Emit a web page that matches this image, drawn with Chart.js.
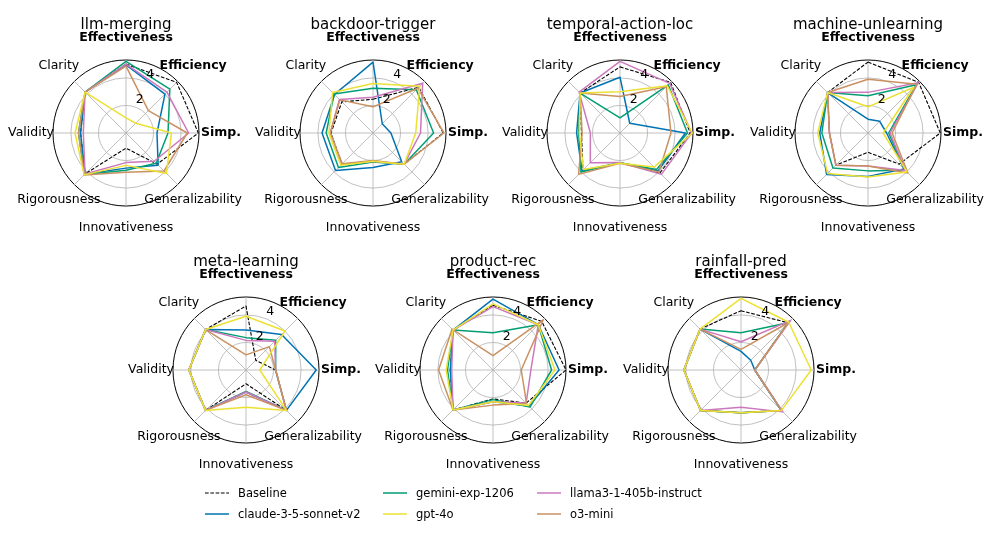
<!DOCTYPE html>
<html>
<head>
<meta charset="utf-8">
<script src="https://cdn.jsdelivr.net/npm/chart.js@4.4.1/dist/chart.umd.min.js"></script>
<style>
html,body{margin:0;padding:0;background:#fff;}
#fig{position:relative;width:997px;height:537px;overflow:hidden;font-family:"DejaVu Sans",sans-serif;background:#fff;}
#fig canvas{position:absolute;}
.leg{position:absolute;font-size:11.5px;line-height:14px;color:#000;white-space:nowrap;}
.leg svg{position:absolute;left:0;top:0;}
.leg span{position:absolute;left:33px;top:0;}
</style>
</head>
<body>
<div id="fig"></div>
<script>
// ---- data ----
const tasks = ["llm-merging","backdoor-trigger","temporal-action-loc","machine-unlearning","meta-learning","product-rec","rainfall-pred"];
const axisLabels = ["Effectiveness","Efficiency","Simp.","Generalizability","Innovativeness","Rigorousness","Validity","Clarity"];
const boldAxes = [0,1,2];
const tickLabels = [2,4];
const ringValues = [0,2,4];
const radialMax = 5.3;
const seriesNames = ["Baseline","claude-3-5-sonnet-v2","gemini-exp-1206","gpt-4o","llama3-1-405b-instruct","o3-mini"];
const seriesColors = ["#000000","#0173b2","#029e73","#ece133","#cc78bc","#ca9161"];

// one row per task, values in axisLabels order
const baseline = [
  [5.0, 5.2, 5.25, 3.2, 1.1, 4.2, 3.3, 4.2],
  [2.45, 4.7, 5.1, 3.2, 2.05, 3.2, 3.05, 3.2],
  [4.8, 5.2, 5.1, 4.1, 2.15, 3.8, 2.8, 4.1],
  [5.15, 5.2, 5.25, 3.2, 1.4, 3.3, 2.8, 4.15],
  [4.65, 1.0, 2.15, 4.15, 1.0, 4.15, 4.15, 4.15],
  [4.7, 5.0, 5.3, 3.4, 2.1, 4.1, 3.1, 4.1],
  [4.3, 4.85, 1.0, 4.15, 3.1, 4.15, 4.15, 4.2]
];
const claude = [
  [4.95, 4.0, 2.25, 3.3, 2.55, 4.2, 3.3, 4.2],
  [5.15, 0.95, 1.3, 2.95, 2.5, 3.85, 3.7, 3.95],
  [4.05, 1.0, 4.75, 3.9, 2.15, 3.9, 3.15, 4.1],
  [1.0, 1.2, 1.35, 3.7, 3.15, 4.25, 3.5, 4.15],
  [2.9, 3.65, 5.1, 4.15, 1.6, 4.15, 4.15, 4.15],
  [5.15, 4.65, 4.8, 3.7, 2.3, 4.1, 3.1, 4.1],
  [1.35, 1.0, 1.0, 4.15, 3.1, 4.15, 4.15, 4.2]
];
const gemini = [
  [5.2, 4.5, 3.05, 3.1, 2.7, 4.25, 3.45, 4.2],
  [3.25, 4.45, 4.4, 3.2, 2.1, 3.55, 3.4, 4.0],
  [1.1, 4.95, 4.9, 3.75, 2.15, 4.0, 3.0, 4.1],
  [2.7, 4.95, 1.5, 3.8, 2.75, 3.6, 3.35, 4.15],
  [2.35, 3.05, 2.15, 4.15, 1.55, 4.15, 4.15, 4.15],
  [2.7, 4.65, 4.25, 3.8, 2.15, 4.1, 3.3, 4.1],
  [2.7, 4.85, 1.0, 4.15, 3.1, 4.15, 4.15, 4.2]
];
const gpt4o = [
  [1.1, 1.0, 3.3, 4.15, 2.35, 4.3, 3.7, 4.2],
  [3.6, 4.8, 3.1, 3.2, 2.05, 3.3, 3.2, 4.15],
  [3.0, 4.85, 5.25, 3.5, 2.2, 3.75, 2.95, 4.1],
  [1.9, 4.7, 1.1, 4.0, 3.2, 4.15, 3.65, 4.15],
  [3.9, 4.0, 1.0, 4.15, 2.7, 4.15, 4.15, 4.15],
  [4.8, 4.65, 4.5, 3.65, 2.3, 4.1, 3.4, 4.1],
  [5.2, 4.9, 5.1, 4.15, 3.1, 4.15, 4.15, 4.2]
];
const llama = [
  [5.0, 4.2, 4.55, 2.9, 2.15, 4.2, 3.1, 4.2],
  [2.6, 5.1, 3.45, 3.2, 2.05, 3.2, 3.1, 3.45],
  [5.2, 5.1, 5.2, 4.25, 2.15, 3.05, 2.15, 4.2],
  [2.95, 5.15, 1.6, 3.85, 2.4, 3.3, 2.8, 4.15],
  [2.15, 2.95, 2.15, 4.15, 1.6, 4.15, 4.15, 4.15],
  [4.6, 4.65, 2.75, 3.4, 2.3, 4.1, 3.0, 4.1],
  [2.05, 5.1, 1.0, 4.3, 2.7, 4.15, 4.15, 4.2]
];
const o3mini = [
  [4.85, 2.3, 4.45, 3.9, 2.85, 4.3, 3.45, 4.2],
  [1.9, 4.6, 5.15, 3.2, 2.0, 3.15, 3.1, 3.4],
  [2.65, 4.75, 3.7, 4.0, 2.2, 4.25, 2.75, 4.1],
  [3.9, 5.0, 1.75, 4.1, 2.4, 3.3, 2.8, 4.15],
  [1.1, 2.4, 2.15, 4.15, 1.8, 4.15, 4.15, 4.15],
  [1.05, 5.15, 2.05, 3.45, 2.55, 4.1, 3.95, 4.2],
  [1.5, 4.85, 1.0, 4.15, 3.1, 4.15, 4.15, 4.2]
];
const seriesData = [baseline, claude, gemini, gpt4o, llama, o3mini];
// draw order: lower = on top
const seriesOrder = [5, 4, 3, 0, 2, 1];

// ---- layout ----
const chartCenters = [[126,133],[373,133],[620,133],[868,133],[246,370],[493,370],[741,370]];
const CW = 248, CH = 240, R = 73, LX = 124, LY = 133;

const textPlugin = {
  id: 'radarText',
  afterDraw(chart, args, opts) {
    const s = chart.scales.r;
    const ctx = chart.ctx;
    const cx = s.xCenter, cy = s.yCenter;
    ctx.save();
    ctx.fillStyle = '#000';
    ctx.textAlign = 'center';
    ctx.textBaseline = 'middle';
    axisLabels.forEach((lab, i) => {
      const p = s.getPointPosition(i, s.drawingArea + 22);
      ctx.font = (boldAxes.includes(i) ? 'bold ' : '') + '12.5px "DejaVu Sans"';
      ctx.fillText(lab, p.x, p.y);
    });
    const th = 22.5 * Math.PI / 180;
    ctx.font = '12.5px "DejaVu Sans"';
    tickLabels.forEach(v => {
      const d = s.getDistanceFromCenterForValue(v) + 8;
      ctx.fillText(String(v), cx + d * Math.sin(th), cy - d * Math.cos(th));
    });
    ctx.font = '15px "DejaVu Sans"';
    ctx.textBaseline = 'alphabetic';
    ctx.fillText(opts.title, cx, cy - s.drawingArea - 31);
    ctx.restore();
  }
};

const fig = document.getElementById('fig');
tasks.forEach((task, t) => {
  const cv = document.createElement('canvas');
  cv.width = CW; cv.height = CH;
  cv.style.width = CW + 'px'; cv.style.height = CH + 'px';
  cv.style.left = (chartCenters[t][0] - LX) + 'px';
  cv.style.top = (chartCenters[t][1] - LY) + 'px';
  fig.appendChild(cv);
  new Chart(cv, {
    type: 'radar',
    data: {
      labels: axisLabels,
      datasets: seriesNames.map((name, k) => ({
        label: name,
        data: seriesData[k][t],
        borderColor: seriesColors[k],
        backgroundColor: 'transparent',
        borderWidth: k === 0 ? 1.1 : 1.5,
        borderDash: k === 0 ? [3.7, 1.6] : [],
        borderJoinStyle: 'round',
        pointRadius: 0,
        pointHoverRadius: 0,
        fill: false,
        tension: 0,
        order: seriesOrder[k]
      }))
    },
    options: {
      responsive: false,
      devicePixelRatio: 1,
      animation: false,
      events: [],
      layout: { padding: { left: LX - R, right: CW - LX - R, top: LY - R, bottom: CH - LY - R } },
      plugins: {
        legend: { display: false },
        tooltip: { enabled: false },
        radarText: { title: task }
      },
      scales: {
        r: {
          min: 0,
          max: radialMax,
          afterBuildTicks: (sc) => { sc.ticks = ringValues.concat([radialMax]).map(v => ({ value: v })); },
          ticks: { display: false },
          pointLabels: { display: false },
          grid: {
            circular: true,
            color: (c) => (c.tick && c.tick.value >= radialMax) ? '#000000' : '#b0b0b0',
            lineWidth: (c) => (c.tick && c.tick.value >= radialMax) ? 1 : 0.8
          },
          angleLines: { color: '#b0b0b0', lineWidth: 0.8 }
        }
      }
    },
    plugins: [textPlugin]
  });
});

// ---- legend (HTML) ----
const legendCols = [205, 383, 537];
const legendRows = [493, 514];
seriesNames.forEach((name, k) => {
  const col = Math.floor(k / 2), row = k % 2;
  const d = document.createElement('div');
  d.className = 'leg';
  d.style.left = legendCols[col] + 'px';
  d.style.top = (legendRows[row] - 7) + 'px';
  d.style.width = '200px'; d.style.height = '14px';
  const dash = k === 0 ? 'stroke-dasharray="3.7 1.6"' : '';
  d.innerHTML = '<svg width="26" height="14"><line x1="0" y1="7" x2="24" y2="7" stroke="' + seriesColors[k] +
    '" stroke-width="' + (k === 0 ? 1.1 : 1.5) + '" ' + dash + '/></svg><span>' + name + '</span>';
  fig.appendChild(d);
});
</script>
</body>
</html>
